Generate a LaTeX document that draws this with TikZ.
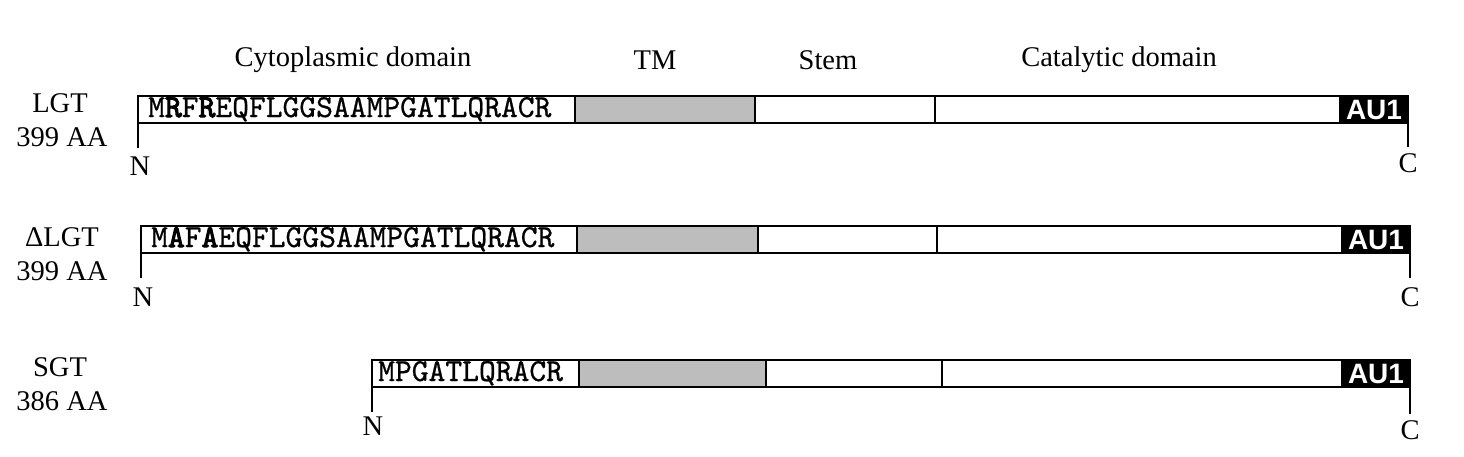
\documentclass[tikz,border=0pt]{standalone}
\usepackage{fontspec}
\setmainfont{Liberation Serif}
\newfontfamily\seqfont{lmmono10-regular.otf}[FakeBold=0.7, BoldFont=lmmono10-regular.otf, BoldFeatures={FakeBold=3.2}]
\newfontfamily\tagfont{Liberation Sans}
\begin{document}
\begin{tikzpicture}[x=1pt,y=-1pt,
  seg/.style={draw, line width=2.6pt, minimum height=27pt, inner sep=0pt, outer sep=0pt, anchor=north west},
  tm/.style={seg, fill=black!26},
  tagbox/.style={seg, fill=black, text=white, font=\tagfont\bfseries\fontsize{28}{28}\selectfont},
  seqtext/.style={anchor=base west, inner sep=0pt, font=\seqfont\fontsize{32}{32}\selectfont},
  lab/.style={font=\fontsize{28.5}{31}\selectfont, inner sep=0pt, align=center},
  tick/.style={line width=2.4pt}]
\useasboundingbox (0,0) rectangle (1464,456);

% header labels
\node[lab] (hcyto) at (353,60) {Cytoplasmic domain};
\node[lab] (htm) at (655,60) {TM};
\node[lab] (hstem) at (828,60) {Stem};
\node[lab] (hcat) at (1119,60) {Catalytic domain};

% ---- Row 1: LGT ----
\node[lab] (name1) at (60,103) {LGT};
\node[lab] (len1) at (62,137) {399 AA};
\node[seg, minimum width=437pt] (cyto1) at (138,96) {};
\node[tm, minimum width=180pt] (tm1) at (575,96) {};
\node[seg, minimum width=180pt] (stem1) at (755,96) {};
\node[seg, minimum width=405pt] (cat1) at (935,96) {};
\node[tagbox, minimum width=68pt] (au1) at (1340,96) {AU1};
\node[seqtext] (seq1) at (148,117) {M\textbf{R}F\textbf{R}EQFLGGSAAMPGATLQRACR};
\node[lab] (n1) at (140,166) {N};
\node[lab] (c1) at (1408,163) {C};
\draw[tick] (cyto1.south west) -- ++(0,25) coordinate (n1t);
\draw[tick] (au1.south east) -- ++(0,24) coordinate (c1t);

% ---- Row 2: Delta LGT ----
\node[lab] (name2) at (62,237) {ΔLGT};
\node[lab] (len2) at (62,271) {399 AA};
\node[seg, minimum width=436pt] (cyto2) at (141,226) {};
\node[tm, minimum width=181pt] (tm2) at (577,226) {};
\node[seg, minimum width=179pt] (stem2) at (758,226) {};
\node[seg, minimum width=405pt] (cat2) at (937,226) {};
\node[tagbox, minimum width=68pt] (au2) at (1342,226) {AU1};
\node[seqtext] (seq2) at (151,247) {M\textbf{A}F\textbf{A}EQFLGGSAAMPGATLQRACR};
\node[lab] (n2) at (143,297) {N};
\node[lab] (c2) at (1410,297) {C};
\draw[tick] (cyto2.south west) -- ++(0,25) coordinate (n2t);
\draw[tick] (au2.south east) -- ++(0,25) coordinate (c2t);

% ---- Row 3: SGT ----
\node[lab] (name3) at (60,367) {SGT};
\node[lab] (len3) at (62,401) {386 AA};
\node[seg, minimum width=207pt] (cyto3) at (372,360) {};
\node[tm, minimum width=187pt] (tm3) at (579,360) {};
\node[seg, minimum width=176pt] (stem3) at (766,360) {};
\node[seg, minimum width=400pt] (cat3) at (942,360) {};
\node[tagbox, minimum width=68pt] (au3) at (1342,360) {AU1};
\node[seqtext] (seq3) at (378,381) {MPGATLQRACR};
\node[lab] (n3) at (373,426) {N};
\node[lab] (c3) at (1410,430) {C};
\draw[tick] (cyto3.south west) -- ++(0,25) coordinate (n3t);
\draw[tick] (au3.south east) -- ++(0,27) coordinate (c3t);
\end{tikzpicture}
\end{document}
